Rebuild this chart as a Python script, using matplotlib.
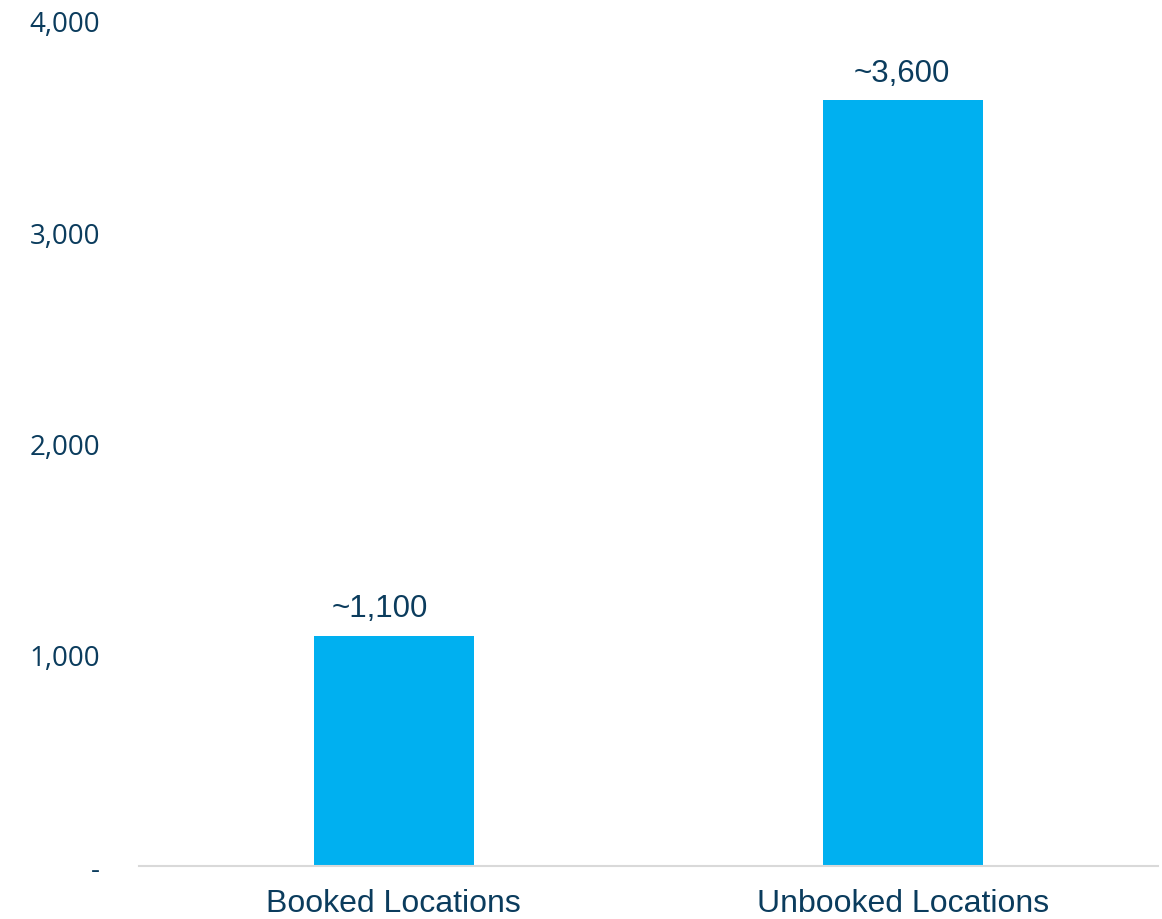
import matplotlib.pyplot as plt
from matplotlib.ticker import FuncFormatter

categories = ['Booked Locations', 'Unbooked Locations']
values = [1090, 3625]
bar_labels = ['~1,100', '~3,600']
y_ticks = [0, 1000, 2000, 3000, 4000]

text_color = '#0B3C5D'
bar_color = '#00B0F0'

fig = plt.figure(figsize=(11.62, 9.2), dpi=100)
ax = fig.add_axes([0.1196, 0.0576, 0.877, 0.9185])

x = range(len(categories))
bars = ax.bar(x, values, width=0.314, color=bar_color)

ax.set_xlim(-0.5, len(categories) - 0.5)
ax.set_ylim(0, 4000)
ax.set_yticks(y_ticks)
ax.yaxis.set_major_formatter(FuncFormatter(lambda v, p: '-' if v == 0 else f'{int(v):,}'))
ax.set_xticks(list(x))
ax.set_xticklabels(categories, fontsize=23, family='Liberation Sans', color=text_color)

for lbl in ax.get_yticklabels():
    lbl.set_fontsize(20)
    lbl.set_family('Open Sans')
    lbl.set_color(text_color)

ax.tick_params(axis='y', length=0, pad=28)
ax.tick_params(axis='x', length=0, pad=16)

for s in ['top', 'right', 'left']:
    ax.spines[s].set_visible(False)
ax.spines['bottom'].set_color('#D9D9D9')
ax.spines['bottom'].set_linewidth(1.5)

# first label sits a bit left of its bar in the original
label_dx = [-10, -1]
for rect, lab, dx in zip(bars, bar_labels, label_dx):
    ax.annotate(lab, (rect.get_x() + rect.get_width() / 2, rect.get_height()),
                xytext=(dx, 9), textcoords='offset points', ha='center', va='bottom',
                fontsize=22.5, family='Liberation Sans', color=text_color)

fig.savefig('out.png', dpi=100)
